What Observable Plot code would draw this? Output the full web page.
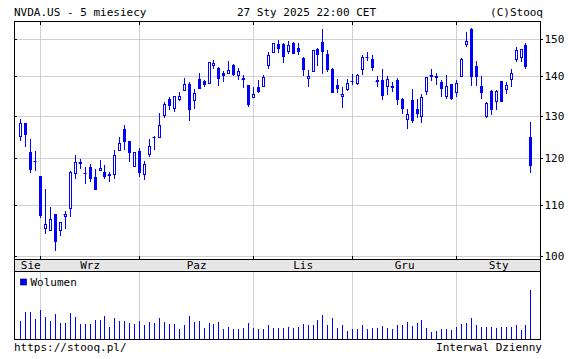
<!DOCTYPE html>
<html><head><meta charset="utf-8">
<script src="https://cdn.jsdelivr.net/npm/d3@7"></script>
<script src="https://cdn.jsdelivr.net/npm/@observablehq/plot@0.6"></script>
<style>
html,body{margin:0;padding:0;background:#fff;}
#wrap{position:relative;width:572px;height:359px;overflow:hidden;font-family:'DejaVu Sans Mono',monospace;font-size:11px;color:#000;}
.t{position:absolute;line-height:13px;white-space:pre;}
.p{position:absolute;left:0;}
.p svg{display:block;overflow:visible;}
</style></head><body>
<div id="wrap">
<div class="t" style="left:14px;top:6px">NVDA.US - 5 miesiecy</div>
<div class="t" style="left:237px;top:6px">27 Sty 2025 22:00 CET</div>
<div class="t" style="right:29px;top:6px">(C)Stooq</div>
<div class="p" id="price" style="top:0"></div>
<div class="p" id="band" style="top:259px"></div>
<div class="p" id="vol" style="top:271px"></div>
<div class="t" style="left:14px;top:341px">https://stooq.pl/</div>
<div class="t" style="right:30px;top:341px">Interwal Dzienny</div>
</div>
<script>
const dates = [
"2024-08-27","2024-08-28","2024-08-29","2024-08-30",
"2024-09-03","2024-09-04","2024-09-05","2024-09-06","2024-09-09","2024-09-10","2024-09-11","2024-09-12","2024-09-13","2024-09-16","2024-09-17","2024-09-18","2024-09-19","2024-09-20","2024-09-23","2024-09-24","2024-09-25","2024-09-26","2024-09-27","2024-09-30",
"2024-10-01","2024-10-02","2024-10-03","2024-10-04","2024-10-07","2024-10-08","2024-10-09","2024-10-10","2024-10-11","2024-10-14","2024-10-15","2024-10-16","2024-10-17","2024-10-18","2024-10-21","2024-10-22","2024-10-23","2024-10-24","2024-10-25","2024-10-28","2024-10-29","2024-10-30","2024-10-31",
"2024-11-01","2024-11-04","2024-11-05","2024-11-06","2024-11-07","2024-11-08","2024-11-11","2024-11-12","2024-11-13","2024-11-14","2024-11-15","2024-11-18","2024-11-19","2024-11-20","2024-11-21","2024-11-22","2024-11-25","2024-11-26","2024-11-27","2024-11-29",
"2024-12-02","2024-12-03","2024-12-04","2024-12-05","2024-12-06","2024-12-09","2024-12-10","2024-12-11","2024-12-12","2024-12-13","2024-12-16","2024-12-17","2024-12-18","2024-12-19","2024-12-20","2024-12-23","2024-12-24","2024-12-26","2024-12-27","2024-12-30","2024-12-31",
"2025-01-02","2025-01-03","2025-01-06","2025-01-07","2025-01-08","2025-01-10","2025-01-13","2025-01-14","2025-01-15","2025-01-16","2025-01-17","2025-01-21","2025-01-22","2025-01-23","2025-01-24","2025-01-27"];
const open = [
125.05,128.12,121.36,119.53,
116.01,105.41,104.99,108.04,104.88,107.81,109.39,116.84,119.08,116.79,118.17,115.89,117.35,117.06,116.55,116.52,122.02,126.80,123.97,118.31,
121.77,116.44,120.92,124.94,124.99,130.26,134.11,131.91,134.01,136.47,137.87,133.98,139.34,138.67,138.13,142.91,142.03,140.82,140.93,143.00,140.29,139.54,137.60,
134.70,137.21,137.45,142.96,146.39,148.77,148.68,146.78,149.07,147.64,144.87,139.50,141.32,147.41,149.35,145.93,141.99,137.70,135.01,136.78,
138.83,138.26,142.00,145.11,144.60,138.97,139.01,137.36,137.08,138.94,134.18,129.09,133.86,131.76,129.81,136.28,140.00,139.70,138.55,134.83,138.03,
136.00,140.01,148.59,153.03,142.58,137.45,129.99,136.05,133.65,138.64,136.69,139.16,144.66,145.05,148.37,124.80];
const high = [
129.20,128.33,124.43,121.75,
116.21,113.27,109.65,108.15,106.55,108.82,117.19,120.79,119.96,118.18,118.80,117.70,119.66,118.62,116.99,121.80,124.94,127.67,124.03,121.50,
122.44,119.38,124.36,125.04,130.64,133.48,134.52,135.00,135.78,139.60,138.57,136.62,140.89,138.90,143.71,144.42,142.43,141.35,144.13,143.14,142.26,140.33,137.61,
137.31,138.96,140.37,146.49,148.93,149.77,148.85,149.65,149.33,149.00,145.24,141.55,147.13,147.56,152.89,147.16,142.05,139.30,137.22,139.35,
140.45,140.45,145.79,146.54,145.70,139.95,141.82,140.17,138.44,139.60,134.40,131.59,136.70,134.03,135.28,139.79,141.90,140.85,139.02,140.27,138.07,
138.88,144.90,152.16,153.13,143.95,139.92,133.49,136.38,136.45,138.75,138.50,141.83,147.79,147.23,148.97,128.40];
const low = [
123.88,122.64,116.71,117.22,
107.29,104.12,104.76,100.95,103.69,105.06,107.42,115.38,117.60,114.36,114.83,113.22,117.25,115.39,114.86,115.38,121.61,121.80,119.26,118.15,
115.79,115.14,120.34,121.83,124.95,129.42,131.38,131.00,133.66,136.30,128.74,131.58,136.87,137.28,138.00,141.78,137.46,138.46,140.80,140.05,138.90,136.81,132.11,
134.57,135.57,137.33,141.96,146.17,146.26,143.57,146.01,145.90,145.55,140.08,137.15,140.99,142.73,140.70,141.10,135.82,135.67,131.80,136.05,
137.82,137.82,140.30,143.95,141.31,137.13,133.79,135.21,135.80,132.54,130.42,126.86,128.28,129.55,128.22,135.12,138.65,137.73,134.71,134.02,133.83,
134.63,139.73,147.82,137.56,137.56,134.22,129.51,130.05,131.29,133.49,135.46,137.09,143.67,143.72,141.88,116.70];
const close = [
128.30,125.61,117.59,119.37,
108.00,106.21,107.21,102.83,106.47,108.10,116.91,119.14,119.10,116.78,115.59,113.37,117.87,116.00,116.26,120.87,123.51,124.04,121.40,121.44,
117.00,118.85,122.85,124.92,127.72,132.89,132.65,134.81,134.80,138.07,131.60,135.72,136.93,138.00,143.71,143.59,139.56,140.41,141.54,140.52,141.25,139.34,132.76,
135.40,136.05,139.91,145.61,148.88,147.63,145.26,148.29,146.27,146.76,141.98,140.15,147.01,145.89,146.67,141.95,136.02,136.92,135.34,138.25,
138.63,140.26,145.14,145.06,142.44,138.81,135.07,139.31,137.34,134.25,132.00,130.39,128.91,130.68,134.70,139.67,140.22,139.93,137.01,137.49,134.29,
138.31,144.47,149.43,140.14,140.11,135.91,133.23,131.76,136.24,133.57,137.71,140.83,147.07,147.22,142.62,118.42];
const volume = [
304,453,453,337,487,370,304,420,271,271,
437,370,243,243,243,321,310,387,205,348,
304,304,271,243,304,227,288,260,354,288,
254,254,171,238,387,288,304,188,271,254,
288,171,205,171,171,188,271,188,171,171,
238,188,188,188,205,188,205,254,227,227,
321,404,238,354,188,238,138,171,171,238,
171,188,188,221,188,171,238,238,288,221,
271,310,188,116,133,171,171,155,205,243,
271,354,238,205,205,205,188,205,205,205,
238,155,238,818];
const monthNames = ["Sie","Wrz","Paz","Lis","Gru","Sty"];
const yTicks = [100,110,120,130,140,150];

const rows = dates.map((d,i)=>({i, date:d, open:open[i], high:high[i], low:low[i], close:close[i], volume:volume[i]}));
const monthStarts = rows.filter((r,k)=>k===0 || r.date.slice(0,7)!==rows[k-1].date.slice(0,7)).map(r=>r.i);
const gridMonths = monthStarts.slice(1);
const xDomain = [-1.272, 104.93];
const bounds = [...monthStarts, xDomain[1]];
const monthLabelRows = monthNames.map((m,k)=>({label:m, x:(bounds[k]+bounds[k+1])/2}));

const W=572, ML=14, MR=32;
const font = "'DejaVu Sans Mono', monospace";
const BLUE="#0000ff", GRID="#d0d0d0";
const st = {fontFamily:font, fontSize:"11px", color:"#000", background:"transparent", overflow:"visible"};
const up = rows.filter(r=>r.close>r.open);
const down = rows.filter(r=>r.close<=r.open);
const doji = rows.filter(r=>Math.abs(r.close-r.open)<0.4);
const body = {x1:"i", x2:"i", y1:"open", y2:"close", insetLeft:-0.5, insetRight:-1.5, insetTop:0.5, insetBottom:-0.5, stroke:BLUE};

const price = Plot.plot({
  width:W, height:260, marginTop:21, marginBottom:1, marginLeft:ML, marginRight:MR,
  style:st,
  x:{domain:xDomain, round:true, axis:null},
  y:{type:"log", domain:[99.38,155.25], round:true, axis:null},
  marks:[
    Plot.ruleY(yTicks, {stroke:GRID}),
    Plot.ruleX(gridMonths, {stroke:GRID}),
    Plot.ruleX(rows, {x:"i", y1:"low", y2:"high", stroke:BLUE}),
    Plot.rect(down, {...body, fill:BLUE}),
    Plot.rect(up, {...body, fill:"white"}),
    Plot.ruleY(doji, {y:"close", x1:"i", x2:"i", insetLeft:-1.5, insetRight:-1.5, stroke:BLUE}),
    Plot.frame({stroke:"#000"}),
    Plot.axisY({ticks:yTicks, anchor:"right", label:null, tickSize:2, tickPadding:2, tickFormat:d=>String(d)}),
    Plot.axisY({ticks:yTicks, anchor:"left", label:null, tickSize:-3, tickFormat:()=>""}),
    Plot.axisX({ticks:gridMonths, anchor:"top", label:null, tickSize:-3, tickFormat:()=>""}),
    Plot.axisX({ticks:gridMonths, anchor:"bottom", label:null, tickSize:-3, tickFormat:()=>""})
  ]
});
document.getElementById("price").append(price);

const band = Plot.plot({
  width:W, height:13, marginTop:0, marginBottom:1, marginLeft:ML, marginRight:MR,
  style:st,
  x:{domain:xDomain, axis:null},
  marks:[
    Plot.frame({fill:"#e6e6e6", stroke:"#000"}),
    Plot.text(monthLabelRows, {x:"x", text:"label", fill:"#000"})
  ]
});
document.getElementById("band").append(band);

const vol = Plot.plot({
  width:W, height:69, marginTop:0, marginBottom:1, marginLeft:ML, marginRight:MR,
  style:st,
  x:{domain:xDomain, round:true, axis:null},
  y:{domain:[0,1135], round:true, axis:null},
  marks:[
    Plot.ruleX(gridMonths, {stroke:GRID}),
    Plot.ruleX(rows, {x:"i", y1:0, y2:"volume", stroke:BLUE}),
    Plot.frame({stroke:"#000"}),
    Plot.dot(["Wolumen"], {frameAnchor:"top-left", dx:9, dy:10.5, symbol:"square", r:3.4, fill:BLUE, stroke:"#000060", strokeWidth:0.7}),
    Plot.text(["Wolumen"], {frameAnchor:"top-left", dx:16, dy:11, text:d=>d, textAnchor:"start", lineAnchor:"middle", fill:"#000"})
  ]
});
document.getElementById("vol").append(vol);
</script>
</body></html>
